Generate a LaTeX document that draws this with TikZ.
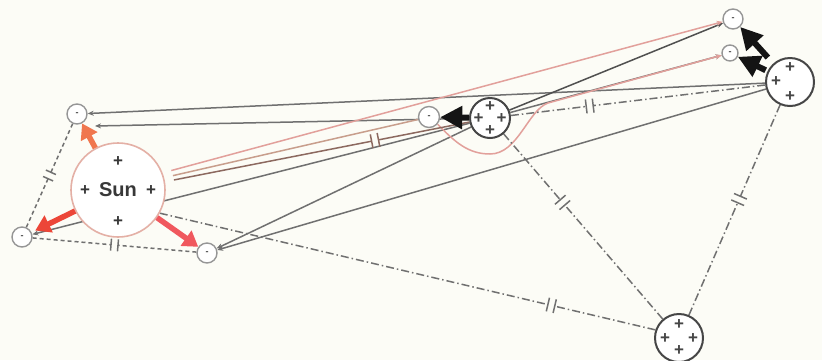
\documentclass[tikz,border=0pt]{standalone}
\usepackage{fontspec}
\setmainfont{Liberation Sans}
\usetikzlibrary{arrows.meta,calc}
\pgfdeclarelayer{bgl}
\pgfdeclarelayer{edges}
\pgfsetlayers{bgl,edges,main}
\definecolor{bg}{RGB}{252,252,246}
\definecolor{edge}{RGB}{112,112,112}
\definecolor{darkline}{RGB}{80,80,80}
\definecolor{dark}{RGB}{70,70,70}
\definecolor{sunring}{RGB}{228,176,166}
\definecolor{pinkl}{RGB}{226,160,155}
\definecolor{tanl}{RGB}{200,158,140}
\definecolor{brownl}{RGB}{140,105,95}
\definecolor{elec}{RGB}{150,150,150}
\definecolor{arrA}{RGB}{240,118,78}
\definecolor{arrB}{RGB}{236,70,56}
\definecolor{arrC}{RGB}{240,88,94}
\newcommand{\capedge}[6]{%
  \path (#3) -- (#4) coordinate[pos=#5] (cmid);
  \coordinate (capa) at ($(cmid)!3.5pt!(#3)$);
  \coordinate (capb) at ($(cmid)!3.5pt!(#4)$);
  \draw[#1,#2] (#3) -- (capa);
  \draw[#1] (#4) -- (capb);
  \draw[#1,solid] ($(capa)!#6!90:(#3)$) -- ($(capa)!#6!-90:(#3)$);
  \draw[#1,solid] ($(capb)!#6!90:(#4)$) -- ($(capb)!#6!-90:(#4)$);
}
\begin{document}
\begin{tikzpicture}[x=1pt,y=-1pt,
  sunnode/.style={circle,draw=sunring,line width=1.6pt,fill=white,minimum size=94pt,inner sep=0pt,font=\bfseries\fontsize{20}{20}\selectfont,text=dark!80!black},
  elecnode/.style={circle,draw=elec,line width=1.4pt,fill=white,minimum size=20pt,inner sep=0pt,font=\bfseries\fontsize{9}{9}\selectfont,text=dark},
  nucl/.style={circle,draw=dark,line width=2pt,fill=white,inner sep=0pt},
  plussign/.style={font=\bfseries\fontsize{17}{17}\selectfont,text=dark,inner sep=0pt},
  wire/.style={draw=edge,line width=1.5pt},
  arrowend/.style={-{Stealth[length=6pt,width=5pt]}},
  dashcap/.style={wire,dash pattern=on 4pt off 3pt},
  dotcap/.style={wire,dash pattern=on 8pt off 3pt on 1.5pt off 3pt},
  sunforce/.style={line width=5.5pt,-{Triangle[length=15pt,width=18pt]}},
  blackforce/.style={line width=6pt,color=black!92,-{Triangle[length=22pt,width=22pt]}},
]
\begin{pgfonlayer}{bgl}
\fill[bg] (0,0) rectangle (822,360);
\end{pgfonlayer}
\useasboundingbox (0,0) rectangle (822,360);

% nodes
\node[sunnode] (Sun) at (118,190) {Sun};
\node[nucl,minimum size=40pt] (B1) at (490,118) {};
\node[nucl,minimum size=48pt] (B2) at (790,82) {};
\node[nucl,minimum size=48pt] (B3) at (679,338) {};
\node[elecnode] (e1) at (77,114) {-};
\node[elecnode] (e2) at (22,237) {-};
\node[elecnode] (e3) at (207,253) {-};
\node[elecnode,minimum size=21pt] (e4) at (429,117) {-};
\node[elecnode] (e5) at (733,19) {-};
\node[elecnode,minimum size=16pt] (e6) at (730,53) {-};

% plus signs
\node[plussign,text=dark!80!black] (sp1) at (118,162) {+};
\node[plussign,text=dark!80!black] (sp2) at (85,191) {+};
\node[plussign,text=dark!80!black] (sp3) at (151,191) {+};
\node[plussign,text=dark!80!black] (sp4) at (118,222) {+};
\node[plussign] (bp1) at (490,106.5) {+};
\node[plussign] (bp2) at (478.5,118.5) {+};
\node[plussign] (bp3) at (501.5,118.5) {+};
\node[plussign] (bp4) at (490,130.5) {+};
\node[plussign] (cp1) at (790,68) {+};
\node[plussign] (cp2) at (776,82) {+};
\node[plussign] (cp3) at (790,97) {+};
\node[plussign] (dp1) at (679,325) {+};
\node[plussign] (dp2) at (665,339) {+};
\node[plussign] (dp3) at (693,339) {+};
\node[plussign] (dp4) at (679,351) {+};

% connectors
\begin{pgfonlayer}{edges}
\draw[wire,arrowend] (B2) -- (e1);
\coordinate (e1tip) at (95,126);
\draw[wire,arrowend] (B1) -- (e1tip);
\draw[wire,arrowend] (B1) -- (e2);
\draw[wire,arrowend] (B1) -- (e3);
\draw[wire,arrowend] (B2) -- (e3);
\draw[wire,draw=darkline,arrowend] (B1) -- (e5);
\draw[wire,arrowend] (B1) -- (e6);
\draw[wire,draw=pinkl,arrowend,shorten <=9pt] (Sun.21) -- (e5);
\draw[wire,draw=tanl,shorten <=9pt] (Sun.15) -- (e4);
\draw[wire,draw=pinkl,arrowend] (e4.-40) .. controls (455,142) and (468,154) .. (490,154) .. controls (518,154) and (528,110) .. (548,103) -- (e6);
\capedge{wire,draw=brownl}{shorten <=9pt}{Sun.10}{B1}{0.69}{7pt}
\capedge{dashcap}{}{e1}{e2}{0.5}{5.5pt}
\capedge{dashcap}{}{e2}{e3}{0.5}{6pt}
\capedge{dotcap}{}{B1}{B2}{0.31}{7pt}
\capedge{dotcap}{}{B1}{B3}{0.37}{7pt}
\capedge{dotcap}{}{B2}{B3}{0.45}{7pt}
\capedge{dotcap}{}{Sun.-29}{B3.161}{0.79}{7pt}
\end{pgfonlayer}

% force arrows
\draw[sunforce,color=arrA] (Sun) -- (e1);
\draw[sunforce,color=arrB,shorten >=4pt] (Sun) -- (e2);
\draw[sunforce,color=arrC] (Sun) -- (e3);
\draw[blackforce] (B1) -- (e4);
\draw[blackforce,shorten <=8pt] (B2) -- (e5);
\draw[blackforce,shorten <=2pt] (B2) -- (e6);
\end{tikzpicture}
\end{document}
